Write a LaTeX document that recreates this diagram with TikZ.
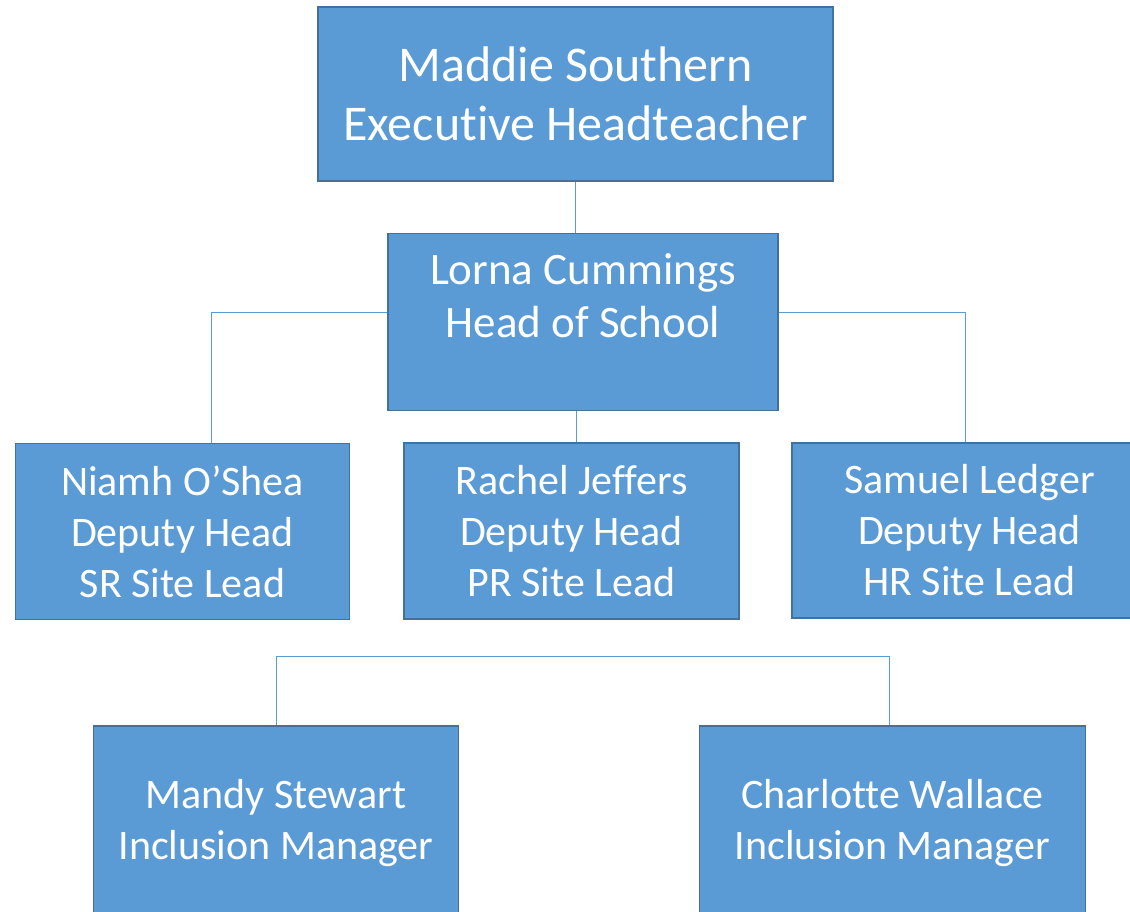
\documentclass[tikz,border=0pt]{standalone}
\usepackage{fontspec}
\setmainfont[Ligatures=NoCommon]{Carlito}
\definecolor{boxfill}{HTML}{5B9BD5}
\definecolor{boxline}{HTML}{41719C}
\begin{document}
\begin{tikzpicture}[x=1pt,y=-1pt,
  orgbox/.style={draw=boxline, line width=1.6pt, fill=boxfill, text=white, align=center, inner sep=0pt},
  boxtext/.style={text=white, align=center, inner sep=0pt},
  link/.style={draw=boxfill, line width=1pt}]
\clip (0,0) rectangle (1130,911);
\useasboundingbox (0,0) rectangle (1130,911);
% boxes
\node[orgbox, minimum width=515pt, minimum height=174pt, font=\fontsize{50}{59}\selectfont] (maddie) at (575.5,94) {Maddie Southern\\Executive Headteacher};
\node[orgbox, minimum width=390pt, minimum height=177pt] (lorna) at (583,322) {};
\node[boxtext, font=\fontsize{45}{53}\selectfont] (lornatext) at (583,296) {Lorna Cummings\\Head of School};
\node[orgbox, minimum width=334pt, minimum height=176pt, font=\fontsize{42}{51}\selectfont] (niamh) at (182.5,531.5) {Niamh O’Shea\\Deputy Head\\SR Site Lead};
\node[orgbox, minimum width=335pt, minimum height=176pt, font=\fontsize{42}{51}\selectfont] (rachel) at (571.5,531) {Rachel Jeffers\\Deputy Head\\PR Site Lead};
\node[orgbox, minimum width=355pt, minimum height=175pt, font=\fontsize{42}{51}\selectfont] (samuel) at (969.5,530.5) {Samuel Ledger\\Deputy Head\\HR Site Lead};
\node[orgbox, minimum width=365pt, minimum height=194pt, font=\fontsize{42}{51}\selectfont] (mandy) at (276,823) {Mandy Stewart\\Inclusion Manager};
\node[orgbox, minimum width=386pt, minimum height=194pt, font=\fontsize{42}{51}\selectfont] (charlotte) at (892.5,823) {Charlotte Wallace\\Inclusion Manager};
% connectors
\draw[link] (maddie.south) -- (lorna.north -| maddie.south);
\draw[link] ([yshift=9.5pt]lorna.west) -| ([xshift=28.5pt]niamh.north);
\draw[link] ([yshift=9.5pt]lorna.east) -| ([xshift=-4.5pt]samuel.north);
\draw[link] ([xshift=-7pt]lorna.south) -- ([xshift=4.5pt]rachel.north);
\coordinate (bar) at (582,656);
\draw[link] (mandy.north) |- (bar) -| ([xshift=-3.5pt]charlotte.north);
\end{tikzpicture}
\end{document}
